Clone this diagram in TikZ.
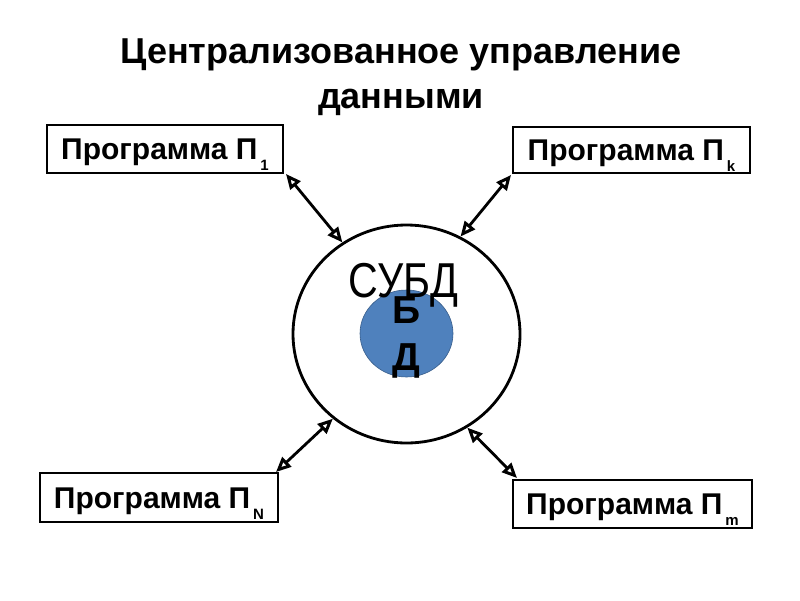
\documentclass[tikz,border=0pt]{standalone}
\usepackage{fontspec}
\setmainfont{Liberation Sans}
\usetikzlibrary{arrows.meta,shapes.geometric}
\definecolor{dbblue}{HTML}{4F81BD}
\definecolor{dbedge}{HTML}{385D8A}
\tikzset{
  prog/.style={draw, line width=2.2pt, inner sep=0pt, text height=21.5pt, text depth=0pt, font=\bfseries\fontsize{30}{32}\selectfont},
  link/.style={line width=2.8pt, {Triangle[open,length=15pt,width=13pt,line width=3pt]}-{Triangle[open,length=15pt,width=13pt,line width=3pt]}},
  ttl/.style={font=\bfseries\fontsize{36}{45}\selectfont, align=center, inner sep=0pt}
}
\newcommand{\sbs}[1]{\hspace{3pt}\raisebox{-11pt}[0pt][0pt]{\fontsize{15}{15}\selectfont #1}}
\begin{document}
\begin{tikzpicture}[x=1pt,y=-1pt]
\useasboundingbox (0,0) rectangle (800,600);
\node[ttl] (title) at (401,77) {Централизованное управление\\данными};
\node[prog, minimum width=236pt, minimum height=48pt] (p1) at (165,149) {Программа П\sbs{1}};
\node[prog, minimum width=237pt, minimum height=46pt] (pk) at (631.5,150) {Программа П\sbs{k}};
\node[prog, minimum width=238pt, minimum height=49pt] (pn) at (159,497.5) {Программа П\sbs{N}};
\node[prog, minimum width=239pt, minimum height=48pt] (pm) at (632.5,504) {Программа П\sbs{m}};
\node[ellipse, draw, line width=2.8pt, minimum width=227pt, minimum height=218pt, inner sep=0pt] (dbms) at (406.5,334) {};
\node[ellipse, draw=dbedge, fill=dbblue, line width=0.6pt, minimum width=93pt, minimum height=87pt, inner sep=0pt] (db) at (406.5,333.5) {};
\node[font=\fontsize{49}{49}\selectfont, xscale=0.84, anchor=base] (subd) at (403.5,297) {СУБД};
\node[font=\bfseries\fontsize{39}{39}\selectfont, anchor=base] (b) at (406.5,323) {Б};
\node[font=\bfseries\fontsize{39}{39}\selectfont, anchor=base] (d) at (406.5,370) {Д};
\coordinate (c1) at (286,174);
\coordinate (ck) at (511,175);
\coordinate (cn) at (276,472);
\coordinate (cm) at (517,478);
\draw[link] (c1) -- (dbms.125);
\draw[link] (ck) -- (dbms.61);
\draw[link] (cn) -- (dbms.-131);
\draw[link] (cm) -- (dbms.-57.6);
\end{tikzpicture}
\end{document}
